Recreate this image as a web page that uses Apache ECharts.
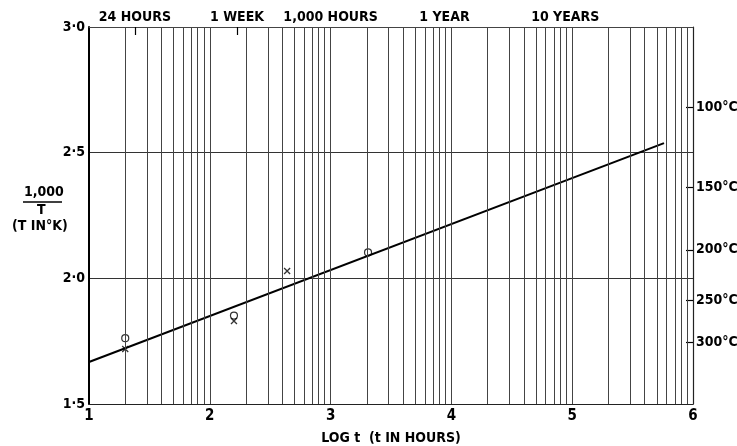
<!DOCTYPE html>
<html>
<head>
<meta charset="utf-8">
<script src="https://cdn.jsdelivr.net/npm/echarts@6/dist/echarts.min.js"></script>
<style>html,body{margin:0;padding:0;background:#fff}#c{width:737px;height:446px}</style>
</head>
<body>
<div id="c"></div>
<script>
// ---- data ----
var circlePoints = [[1.30, 1.762], [2.20, 1.852], [3.31, 2.103]];
var crossPoints = [[1.30, 1.719], [2.20, 1.830], [2.64, 2.029]];
var fitLine = [[1.0, 1.667], [5.76, 2.538]];
var topLabelNames = ['24 HOURS', '1 WEEK', '1,000 HOURS', '1 YEAR', '10 YEARS'];
var topLabelHours = [24, 168, 1000, 8760, 87600];
var tempLabelsC = [100, 150, 200, 250, 300];
var xTicks = [1, 2, 3, 4, 5, 6];
var yTicks = [1.5, 2.0, 2.5, 3.0];

// ---- derived ----
var topPos = topLabelHours.map(function (h) { return Math.log10(h); });
var tempPos = tempLabelsC.map(function (c) { return 1000 / (c + 273.15); });
var gridX = [];
for (var n = 1; n <= 5; n++) {
  for (var k = 1; k <= 9; k++) {
    var v = n + Math.log10(k);
    if (v > 1) gridX.push(v);
  }
}
function nearestIdx(arr, v) {
  var b = 0, d = 1e9;
  for (var i = 0; i < arr.length; i++) { var dd = Math.abs(arr[i] - v); if (dd < d) { d = dd; b = i; } }
  return b;
}
var FONT = 'DejaVu Sans Condensed';

var chart = echarts.init(document.getElementById('c'), null, { renderer: 'canvas' });
chart.setOption({
  backgroundColor: '#fff',
  animation: false,
  grid: { left: 89, right: 44, top: 27, bottom: 42, containLabel: false, outerBoundsMode: 'none' },
  xAxis: [{
    type: 'value', position: 'bottom', min: 1, max: 6, interval: 1,
    axisLine: { show: true, lineStyle: { color: '#222', width: 1.2 } },
    axisTick: { show: false },
    splitLine: { show: false },
    axisLabel: { color: '#000', fontFamily: FONT, fontWeight: 'bold', fontSize: 15, margin: 5 },
    name: 'LOG t  (t IN HOURS)', nameLocation: 'middle', nameGap: 27,
    nameTextStyle: { color: '#000', fontFamily: FONT, fontWeight: 'bold', fontSize: 14 }
  }, {
    type: 'value', position: 'top', min: 1, max: 6,
    axisLine: { show: true, lineStyle: { color: '#444', width: 1 } },
    axisTick: { show: true, inside: true, length: 8, customValues: topPos.slice(0, 2), lineStyle: { color: '#000', width: 1.2 } },
    splitLine: { show: false },
    axisLabel: {
      customValues: topPos, color: '#000', fontFamily: FONT, fontWeight: 'bold', fontSize: 14, margin: 3,
      formatter: function (v) { return topLabelNames[nearestIdx(topPos, v)]; }
    }
  }],
  yAxis: [{
    type: 'value', position: 'left', min: 1.5, max: 3.0, interval: 0.5,
    axisLine: { show: true, lineStyle: { color: '#000', width: 2 } },
    axisTick: { show: false },
    splitLine: { show: true, lineStyle: { color: '#333', width: 1 } },
    axisLabel: {
      color: '#000', fontFamily: FONT, fontWeight: 'bold', fontSize: 14, margin: 4,
      formatter: function (v) { return v.toFixed(1).replace('.', '·'); }
    }
  }, {
    type: 'value', position: 'right', min: 1.5, max: 3.0,
    axisLine: { show: true, lineStyle: { color: '#222', width: 1.2 } },
    axisTick: { show: true, inside: true, length: 7, customValues: tempPos, lineStyle: { color: '#000', width: 1.2 } },
    splitLine: { show: false },
    axisLabel: {
      customValues: tempPos, color: '#000', fontFamily: FONT, fontWeight: 'bold', fontSize: 14, margin: 3,
      formatter: function (v) { return tempLabelsC[nearestIdx(tempPos, v)] + '°C'; }
    }
  }],
  graphic: [
    { type: 'text', left: 24, top: 185, style: { text: '1,000', fontFamily: FONT, fontWeight: 'bold', fontSize: 14, fill: '#000' } },
    { type: 'line', shape: { x1: 23, y1: 202, x2: 62, y2: 202 }, style: { stroke: '#000', lineWidth: 1.5 } },
    { type: 'text', left: 37, top: 203, style: { text: 'T', fontFamily: FONT, fontWeight: 'bold', fontSize: 14, fill: '#000' } },
    { type: 'text', left: 12, top: 219, style: { text: '(T IN°K)', fontFamily: FONT, fontWeight: 'bold', fontSize: 14, fill: '#000' } }
  ],
  series: [{
    type: 'line', name: 'grid', data: [], silent: true,
    markLine: {
      silent: true, symbol: ['none', 'none'], label: { show: false },
      lineStyle: { type: 'solid', color: '#444', width: 1 },
      data: gridX.map(function (v) { return { xAxis: v }; })
    }
  }, {
    type: 'line', name: 'fit', data: fitLine, symbol: 'none', silent: true,
    lineStyle: { color: '#000', width: 2 }
  }, {
    type: 'scatter', name: 'circles', data: circlePoints, symbol: 'circle', symbolSize: 7,
    itemStyle: { color: '#fff', borderColor: '#000', borderWidth: 1.2 }
  }, {
    type: 'scatter', name: 'crosses', data: crossPoints, symbol: 'path://M0,0L10,10M10,0L0,10', symbolSize: 6,
    itemStyle: { color: 'none', borderColor: '#000', borderWidth: 1.3 }
  }]
});
</script>
</body>
</html>
